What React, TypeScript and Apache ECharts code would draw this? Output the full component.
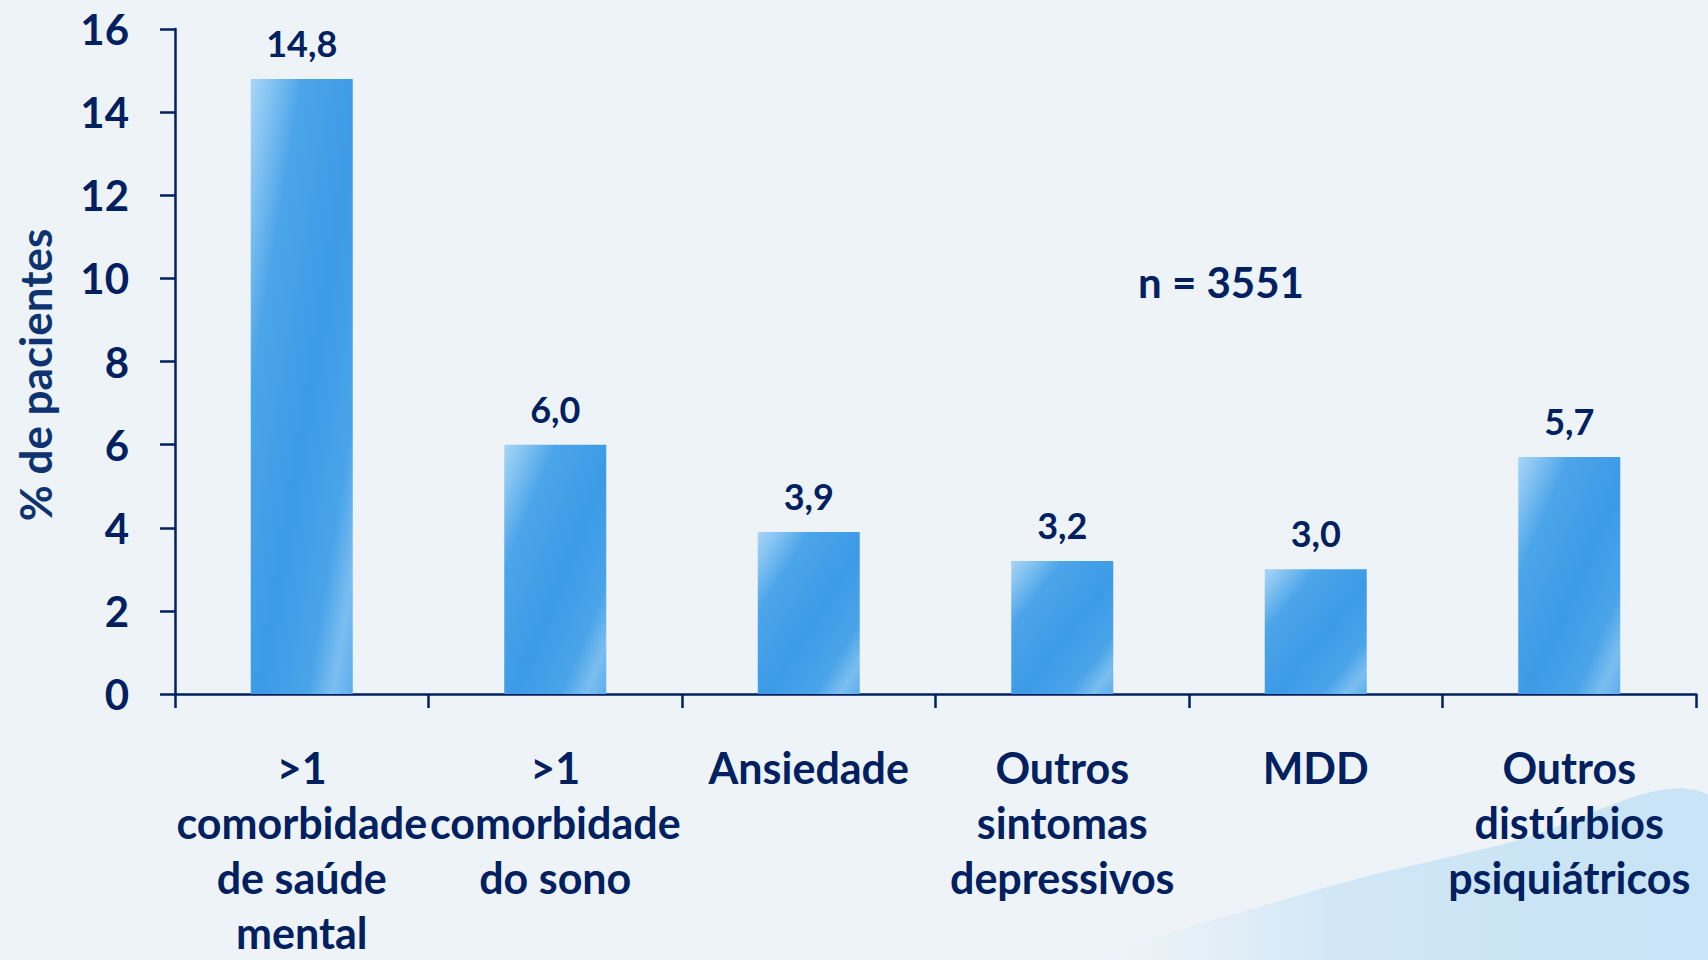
import React, { useEffect, useRef } from "react";
import * as echarts from "echarts";

const categories = [
  ">1\ncomorbidade\nde saúde\nmental",
  ">1\ncomorbidade\ndo sono",
  "Ansiedade",
  "Outros\nsintomas\ndepressivos",
  "MDD",
  "Outros\ndistúrbios\npsiquiátricos",
];
const values = [14.8, 6.0, 3.9, 3.2, 3.0, 5.7];
const yTicks = { min: 0, max: 16, interval: 2 };
const yAxisTitle = "% de pacientes";
const sampleNote = "n = 3551";

const NAVY = "#002060";
const FONT = "Lato, 'Open Sans', sans-serif";

export default function App() {
  const ref = useRef<HTMLDivElement>(null);
  useEffect(() => {
    if (!ref.current) return;
    const chart = echarts.init(ref.current, undefined, { renderer: "svg" });
    const barFill = new echarts.graphic.LinearGradient(0, 0, 1, 1, [
      { offset: 0, color: "#a9d5f6" },
      { offset: 0.1, color: "#86c4f2" },
      { offset: 0.25, color: "#4da5e9" },
      { offset: 0.55, color: "#3c9ae6" },
      { offset: 0.78, color: "#4aa4e9" },
      { offset: 0.9, color: "#7bbef0" },
      { offset: 1, color: "#5caeec" },
    ]);
    chart.setOption({
      animation: false,
      backgroundColor: "#eef3f8",
      textStyle: { fontFamily: FONT },
      graphic: [
        {
          type: "polygon",
          z: -10,
          silent: true,
          shape: {
            points: [
              [1120, 960],
              [1300, 895],
              [1500, 845],
              [1708, 795],
              [1708, 960],
            ],
            smooth: 0.4,
          },
          style: {
            fill: new echarts.graphic.LinearGradient(0, 0, 1, 0, [
              { offset: 0, color: "rgba(190,224,245,0)" },
              { offset: 0.35, color: "rgba(175,216,243,0.45)" },
              { offset: 1, color: "rgba(190,224,245,0.8)" },
            ]),
          },
        },
        {
          type: "text",
          x: 1221,
          y: 282,
          style: {
            text: sampleNote,
            textAlign: "center",
            textVerticalAlign: "middle",
            fontSize: 42,
            fontWeight: "bold",
            fontFamily: FONT,
            fill: NAVY,
          },
        },
        {
          type: "text",
          x: 35,
          y: 375,
          rotation: Math.PI / 2,
          style: {
            text: yAxisTitle,
            textAlign: "center",
            textVerticalAlign: "middle",
            fontSize: 44,
            fontWeight: "bold",
            fontFamily: FONT,
            fill: "#0d3470",
          },
        },
      ],
      grid: { left: 175, right: 12, top: 29, bottom: 256, containLabel: false },
      xAxis: {
        type: "category",
        data: categories,
        axisLine: { show: true, lineStyle: { color: NAVY, width: 2.5 } },
        axisTick: { show: true, length: 14, lineStyle: { color: NAVY, width: 2.5 } },
        axisLabel: {
          interval: 0,
          margin: 46,
          color: NAVY,
          fontSize: 43,
          fontWeight: "bold",
          fontFamily: FONT,
          lineHeight: 55,
        },
      },
      yAxis: {
        type: "value",
        min: yTicks.min,
        max: yTicks.max,
        interval: yTicks.interval,
        axisLine: { show: true, lineStyle: { color: NAVY, width: 2.5 } },
        axisTick: { show: true, length: 15, lineStyle: { color: NAVY, width: 2.5 } },
        splitLine: { show: false },
        axisLabel: {
          margin: 46,
          color: NAVY,
          fontSize: 42,
          fontWeight: "bold",
          fontFamily: FONT,
        },
      },
      series: [
        {
          type: "bar",
          data: values,
          barWidth: 102,
          itemStyle: { color: barFill },
          label: {
            show: true,
            position: "top",
            distance: 18,
            color: NAVY,
            fontSize: 36,
            fontWeight: "bold",
            fontFamily: FONT,
            formatter: (p: any) => p.value.toFixed(1).replace(".", ","),
          },
        },
      ],
    });
    return () => chart.dispose();
  }, []);
  return (
    <div
      ref={ref}
      style={{ position: "fixed", left: 0, top: 0, width: 1708, height: 960 }}
    />
  );
}
